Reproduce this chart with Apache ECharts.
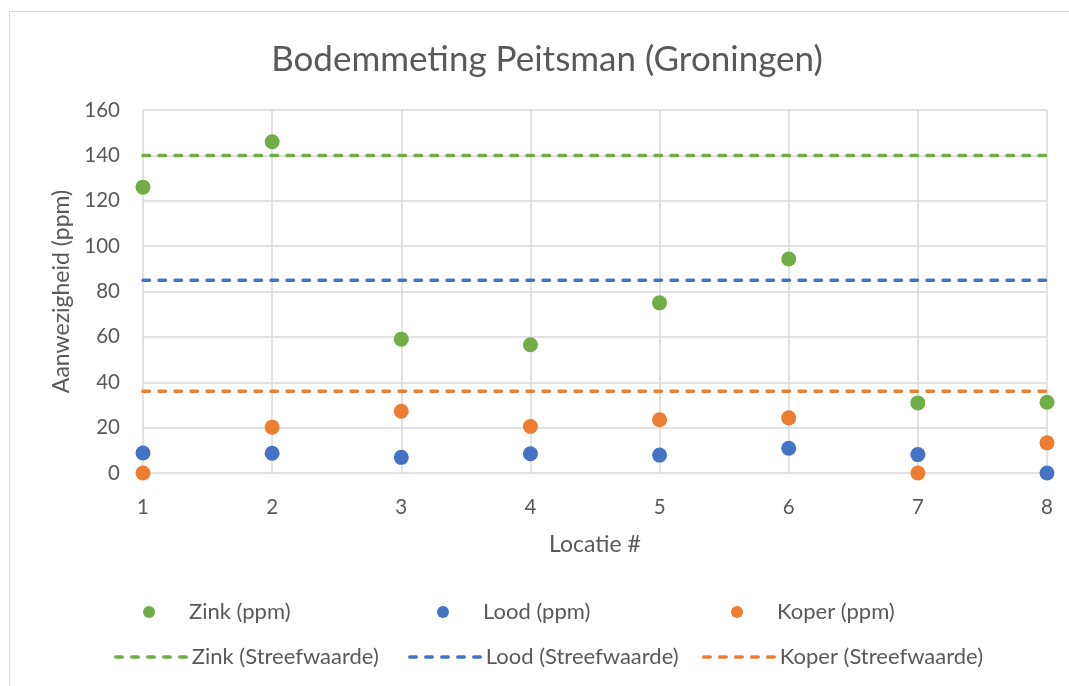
<!DOCTYPE html>
<html>
<head>
<meta charset="utf-8">
<script src="https://cdn.jsdelivr.net/npm/echarts@6/dist/echarts.min.js"></script>
<style>html,body{margin:0;padding:0;background:#fff}#c{width:1069px;height:686px}</style>
</head>
<body>
<div id="c"></div>
<script>
var locaties = [1, 2, 3, 4, 5, 6, 7, 8];
var zink = [126, 146, 59, 56.5, 75, 94.3, 30.9, 31.2];
var lood = [8.8, 8.7, 6.9, 8.5, 7.9, 10.9, 8.1, 0];
var koper = [0, 20.2, 27.2, 20.5, 23.5, 24.3, 0, 13.3];
var zinkStreef = [140, 140, 140, 140, 140, 140, 140, 140];
var loodStreef = [85, 85, 85, 85, 85, 85, 85, 85];
var koperStreef = [36, 36, 36, 36, 36, 36, 36, 36];
var yTicks = [0, 20, 40, 60, 80, 100, 120, 140, 160];

var GREEN = '#70ad47', BLUE = '#4472c4', ORANGE = '#ed7d31', TXT = '#595959';
var FONT = 'Lato';
var DASH = [6.5, 9.5];

function pairs(ys) { return locaties.map(function (x, i) { return [x, ys[i]]; }); }

function scatter(name, ys, color) {
  return { name: name, type: 'scatter', data: pairs(ys), symbol: 'circle', symbolSize: 15,
    itemStyle: { color: color, opacity: 1 }, clip: false, z: 5 };
}
function line(name, ys, color) {
  return { name: name, type: 'line', data: pairs(ys), symbol: 'none', showSymbol: false,
    lineStyle: { color: color, width: 3.5, type: DASH, cap: 'round' }, itemStyle: { color: color }, z: 3 };
}
function leg(name, left, top, isLine) {
  var o = {
    data: [name], left: left, top: top, orient: 'horizontal',
    itemWidth: isLine ? 71 : 12, itemHeight: isLine ? 14 : 12,
    textStyle: { color: TXT, fontSize: 22, fontFamily: FONT, padding: isLine ? [0, 0, 0, 0] : [0, 0, 0, 29] },
    padding: 0, selectedMode: false
  };
  if (isLine) { o.itemStyle = { opacity: 0 }; o.lineStyle = { width: 3.5, type: DASH, cap: 'round' }; }
  return o;
}

var chart = echarts.init(document.getElementById('c'));
chart.setOption({
  animation: false,
  backgroundColor: '#fff',
  title: {
    text: 'Bodemmeting Peitsman (Groningen)', left: 542, top: 37, textAlign: 'center',
    textStyle: { color: TXT, fontSize: 35, fontWeight: 'normal', fontFamily: FONT }
  },
  graphic: [{ type: 'rect', shape: { x: 9.5, y: 11.5, width: 1080, height: 700 }, style: { fill: null, stroke: '#d9d9d9', lineWidth: 1 }, silent: true }],
  grid: { left: 143, right: 22, top: 110, bottom: 213 },
  xAxis: {
    type: 'value', min: 1, max: 8, interval: 1,
    name: 'Locatie #', nameLocation: 'middle', nameGap: 60,
    nameTextStyle: { color: TXT, fontSize: 23, fontFamily: FONT },
    axisLine: { show: false }, axisTick: { show: false },
    axisLabel: { color: TXT, fontSize: 20.5, fontFamily: FONT, margin: 24 },
    splitLine: { show: true, lineStyle: { color: '#d9d9d9', width: 1.5 } }
  },
  yAxis: {
    type: 'value', min: 0, max: 160, interval: 20,
    name: 'Aanwezigheid (ppm)', nameLocation: 'middle', nameGap: 69,
    nameTextStyle: { color: TXT, fontSize: 23, fontFamily: FONT },
    axisLine: { show: false }, axisTick: { show: false },
    axisLabel: { color: TXT, fontSize: 20.5, fontFamily: FONT, margin: 23,
      formatter: function (v) { return yTicks.indexOf(v) >= 0 ? String(v) : ''; } },
    splitLine: { show: true, lineStyle: { color: '#d9d9d9', width: 1.5 } }
  },
  legend: [
    leg('Zink (ppm)', 143, 601, false),
    leg('Lood (ppm)', 437, 601, false),
    leg('Koper (ppm)', 731, 601, false),
    leg('Zink (Streefwaarde)', 114, 646, true),
    leg('Lood (Streefwaarde)', 408, 646, true),
    leg('Koper (Streefwaarde)', 702, 646, true)
  ],
  series: [
    scatter('Zink (ppm)', zink, GREEN),
    scatter('Lood (ppm)', lood, BLUE),
    scatter('Koper (ppm)', koper, ORANGE),
    line('Zink (Streefwaarde)', zinkStreef, GREEN),
    line('Lood (Streefwaarde)', loodStreef, BLUE),
    line('Koper (Streefwaarde)', koperStreef, ORANGE)
  ]
});
</script>
</body>
</html>
